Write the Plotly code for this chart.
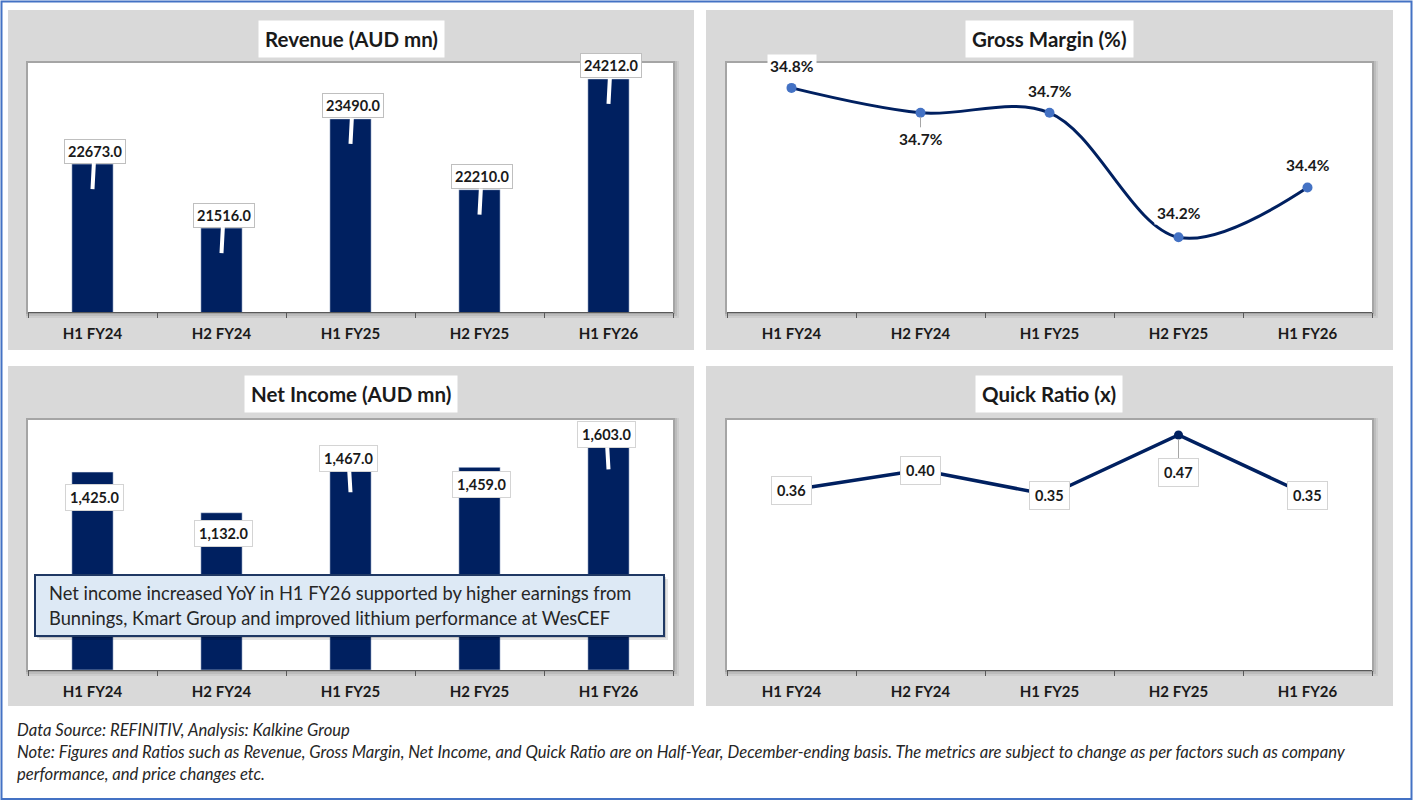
import plotly.graph_objects as go

W, H = 1415, 802

# ---------------- data ----------------
categories = ["H1 FY24", "H2 FY24", "H1 FY25", "H2 FY25", "H1 FY26"]
revenue = [22673.0, 21516.0, 23490.0, 22210.0, 24212.0]
gross_margin = [34.8, 34.7, 34.7, 34.2, 34.4]
net_income = [1425.0, 1132.0, 1467.0, 1459.0, 1603.0]
quick_ratio = [0.36, 0.40, 0.35, 0.47, 0.35]

titles = ["Revenue (AUD mn)", "Gross Margin (%)", "Net Income (AUD mn)", "Quick Ratio (x)"]
note_text = ("Net income increased YoY in H1 FY26 supported by higher earnings from",
             "Bunnings, Kmart Group and improved lithium performance at WesCEF")
footer_lines = [
    "Data Source: REFINITIV, Analysis: Kalkine Group",
    "Note: Figures and Ratios such as Revenue, Gross Margin, Net Income, and Quick Ratio are on Half-Year, "
    "December-ending basis. The metrics are subject to change as per factors such as company",
    "performance, and price changes etc.",
]

# ---------------- style ----------------
FONT = "Lato"
NAVY = "#002060"
MARK = "#4472C4"
TXT = "#1a1a1a"
GRAY = "#d9d9d9"


def px(x):
    return x / W


def py(y):
    return 1 - y / H


panels = [(8, 10, 694, 350), (706, 10, 1393, 350), (8, 366, 694, 706), (706, 366, 1393, 706)]
plots = [(28, 63, 673, 312), (727, 63, 1372, 312), (28, 420, 673, 670), (727, 420, 1372, 670)]

fig = go.Figure()

# traces
fig.add_trace(go.Bar(x=categories, y=revenue, xaxis="x", yaxis="y", marker_color=NAVY,
                     width=0.32, showlegend=False, hoverinfo="skip"))
fig.add_trace(go.Scatter(x=categories, y=gross_margin, xaxis="x2", yaxis="y2", mode="lines+markers",
                         line=dict(color=NAVY, width=3, shape="spline", smoothing=1.0),
                         marker=dict(color=MARK, size=10), showlegend=False, hoverinfo="skip"))
fig.add_trace(go.Bar(x=categories, y=net_income, xaxis="x3", yaxis="y3", marker_color=NAVY,
                     width=0.32, showlegend=False, hoverinfo="skip"))
fig.add_trace(go.Scatter(x=categories, y=quick_ratio, xaxis="x4", yaxis="y4", mode="lines+markers",
                         line=dict(color=NAVY, width=3.5),
                         marker=dict(color=NAVY, size=9), showlegend=False, hoverinfo="skip"))

shapes = []
# outer border
shapes.append(dict(type="rect", xref="paper", yref="paper", x0=px(1.5), y0=py(799), x1=px(1411.5), y1=py(1.5),
                   line=dict(color="#4472C4", width=2), fillcolor="rgba(0,0,0,0)", layer="below"))
for (x0, y0, x1, y1) in panels:
    shapes.append(dict(type="rect", xref="paper", yref="paper", x0=px(x0), y0=py(y1), x1=px(x1), y1=py(y0),
                       line=dict(width=0), fillcolor=GRAY, layer="below"))
for (x0, y0, x1, y1) in plots:
    for k, a in [(6, 0.06), (4, 0.08), (2, 0.12)]:
        shapes.append(dict(type="rect", xref="paper", yref="paper",
                           x0=px(x0 - 2), y0=py(y1 + k), x1=px(x1 + k), y1=py(y0 - 2),
                           line=dict(width=0), fillcolor=f"rgba(0,0,0,{a})", layer="below"))
    shapes.append(dict(type="rect", xref="paper", yref="paper", x0=px(x0), y0=py(y1), x1=px(x1), y1=py(y0),
                       line=dict(width=0), fillcolor="white", layer="below"))

# note box in net income panel (with soft shadow)
for k, a in [(4, 0.10), (2, 0.15)]:
    shapes.append(dict(type="rect", xref="paper", yref="paper", x0=px(35 + k), y0=py(636 + k),
                       x1=px(664 + k), y1=py(575 + k),
                       line=dict(width=0), fillcolor=f"rgba(0,0,0,{a})", layer="above"))
shapes.append(dict(type="rect", xref="paper", yref="paper", x0=px(35), y0=py(636), x1=px(664), y1=py(575),
                   line=dict(color="#1F3864", width=2), fillcolor="#DDE9F5", layer="above"))

annotations = []
# panel titles
title_pos = [(351, 38.5), (1049, 38.5), (351, 394.5), (1049, 394.5)]
for t, (cx, cy) in zip(titles, title_pos):
    annotations.append(dict(xref="paper", yref="paper", x=px(cx), y=py(cy), text=f"<b>{t}</b>",
                            xanchor="center", yanchor="middle",
                            showarrow=False, bgcolor="white", borderpad=6,
                            font=dict(family=FONT, size=20.5, color=TXT)))

lab_font = dict(family=FONT, size=14.5, color=TXT)

# revenue callouts
for c, v in zip(categories, revenue):
    annotations.append(dict(xref="x", yref="y", x=c, y=v, text=f"<b>{v:.1f}</b>",
                            showarrow=True, arrowhead=0, arrowwidth=4, arrowcolor="white",
                            ax=2, ay=-38, yshift=-25, standoff=0,
                            bgcolor="white", bordercolor="#bfbfbf", borderwidth=1, borderpad=3,
                            font=lab_font))

# net income labels: (box offset above bar top, pointer depth below bar top)
ni_box_dy = [-25, -21, 8, -17, 13]
ni_ptr = [0, 0, 26, 0, 22]
for c, v, dy, p in zip(categories, net_income, ni_box_dy, ni_ptr):
    if p:
        annotations.append(dict(xref="x3", yref="y3", x=c, y=v, text=f"<b>{v:,.1f}</b>",
                                showarrow=True, arrowhead=0, arrowwidth=4, arrowcolor="white",
                                ax=-2, ay=-(dy + p), yshift=-p, standoff=0,
                                bgcolor="white", bordercolor="#d4d4d4", borderwidth=1, borderpad=4,
                                font=lab_font))
    else:
        annotations.append(dict(xref="x3", yref="y3", x=c, y=v, text=f"<b>{v:,.1f}</b>",
                                showarrow=False, yshift=dy, xshift=2,
                                bgcolor="white", bordercolor="#d4d4d4", borderwidth=1, borderpad=4,
                                font=lab_font))

# gross margin labels
gm_font = dict(family=FONT, size=15.5, color=TXT)
gm_dy = [22, -26, 22, 24, 23]
for i, (c, v, dy) in enumerate(zip(categories, gross_margin, gm_dy)):
    if i == 1:
        annotations.append(dict(xref="x2", yref="y2", x=c, y=v, text=f"<b>{v:.1f}%</b>",
                                showarrow=True, arrowhead=0, arrowwidth=1, arrowcolor="#a6a6a6",
                                ax=0, ay=-dy, standoff=4, bgcolor="white", borderpad=2,
                                font=gm_font))
    else:
        annotations.append(dict(xref="x2", yref="y2", x=c, y=v, text=f"<b>{v:.1f}%</b>",
                                showarrow=False, yshift=dy, bgcolor="white", borderpad=2,
                                font=gm_font))

# quick ratio labels
qr_dy = [0, 0, 0, -37, 0]
for i, (c, v, dy) in enumerate(zip(categories, quick_ratio, qr_dy)):
    if dy:
        annotations.append(dict(xref="x4", yref="y4", x=c, y=v, text=f"<b>{v:.2f}</b>",
                                showarrow=True, arrowhead=0, arrowwidth=1, arrowcolor="#a6a6a6",
                                ax=0, ay=-dy, standoff=4,
                                bgcolor="white", bordercolor="#d4d4d4", borderwidth=1, borderpad=5,
                                font=lab_font))
    else:
        annotations.append(dict(xref="x4", yref="y4", x=c, y=v, text=f"<b>{v:.2f}</b>",
                                showarrow=False,
                                bgcolor="white", bordercolor="#d4d4d4", borderwidth=1, borderpad=5,
                                font=lab_font))

# note box text
for line, yy in zip(note_text, [593, 618]):
    annotations.append(dict(xref="paper", yref="paper", x=px(47), y=py(yy), text=line, showarrow=False,
                            xanchor="left", yanchor="middle",
                            font=dict(family=FONT, size=18.3, color="#262626")))

# footer
for line, yy in zip(footer_lines, [730, 752, 774]):
    annotations.append(dict(xref="paper", yref="paper", x=px(15), y=py(yy), text=f"<i>{line}</i>",
                            showarrow=False, xanchor="left", yanchor="middle",
                            font=dict(family=FONT, size=16.65, color="#262626")))

xax = dict(type="category", range=[-0.5, len(categories) - 0.5], autorange=False,
           showline=True, linecolor="#595959", linewidth=1, ticks="outside",
           tickson="boundaries", ticklen=5, tickcolor="#595959", showgrid=False, zeroline=False,
           tickfont=dict(family=FONT, size=15, color=TXT, weight="bold"), fixedrange=True,
           ticklabelstandoff=8)

layout_axes = {}
ranges = [[20000, 24500], [33.9, 34.9], [0, 1800], [0, 0.5]]
for i, ((x0, y0, x1, y1), rg) in enumerate(zip(plots, ranges)):
    n = "" if i == 0 else str(i + 1)
    layout_axes[f"xaxis{n}"] = dict(xax, domain=[px(x0), px(x1)], anchor=f"y{n}")
    layout_axes[f"yaxis{n}"] = dict(domain=[py(y1), py(y0)], anchor=f"x{n}", range=rg, visible=False,
                                    fixedrange=True)

fig.update_layout(
    width=W, height=H, margin=dict(l=0, r=0, t=0, b=0),
    paper_bgcolor="white", plot_bgcolor="rgba(0,0,0,0)",
    shapes=shapes, annotations=annotations, bargap=0.5,
    font=dict(family=FONT, color=TXT),
    **layout_axes,
)

fig.write_html("out.html", config={"displayModeBar": False},
               post_script="document.body.style.margin='0';document.body.style.overflow='hidden';")
